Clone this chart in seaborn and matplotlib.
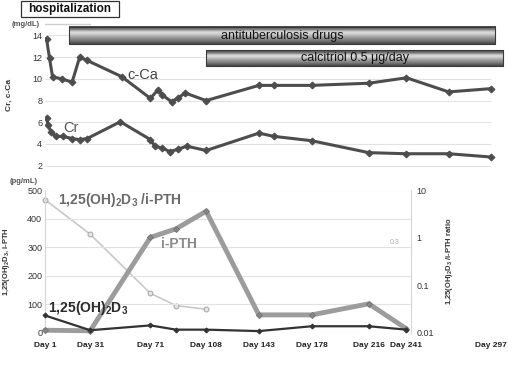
import numpy as np
import pandas as pd
import matplotlib
matplotlib.use("Agg")
import matplotlib.pyplot as plt
import seaborn as sns

# ---------------- data ----------------
cca_day = [2, 4, 6, 12, 19, 24, 29, 52, 71, 76, 79, 85, 89, 94, 108, 143, 153, 178, 216, 241, 269, 297]
cca_val = [13.7, 11.9, 10.2, 10.0, 9.7, 12.0, 11.7, 10.2, 8.2, 9.0, 8.5, 7.9, 8.2, 8.7, 8.0, 9.4, 9.4, 9.4, 9.6, 10.1, 8.8, 9.1]

cr_day = [2, 3, 5, 8, 13, 19, 24, 29, 51, 71, 74, 79, 84, 89, 95, 108, 143, 153, 178, 216, 241, 269, 297]
cr_val = [6.4, 5.75, 5.1, 4.7, 4.7, 4.5, 4.4, 4.5, 6.05, 4.4, 3.8, 3.6, 3.3, 3.5, 3.8, 3.4, 5.0, 4.7, 4.3, 3.2, 3.1, 3.1, 2.8]

lab_day = [1, 31, 71, 88, 108, 143, 178, 216, 241]
ipth = [8, 6, 335, 365, 427, 62, 62, 101, 13]
vitd = [60, 8, 25, 10, 10, 5, 22, 22, 10]

ratio_day = [1, 31, 71, 88, 108]
ratio = [6.4, 1.19, 0.067, 0.037, 0.031]

tick_days = [1, 31, 71, 108, 143, 178, 216, 241, 297]
tick_labels = ["Day 1", "Day 31", "Day 71", "Day 108", "Day 143", "Day 178", "Day 216", "Day 241", "Day 297"]

top_yticks = [2, 4, 6, 8, 10, 12, 14]
bot_yticks = [0, 100, 200, 300, 400, 500]
ratio_ticks = [0.01, 0.1, 1, 10]
ratio_ticklabels = ["0.01", "0.1", "1", "10"]

# treatment periods (day start, day end)
hosp_period = [1, 31]
antitb_period = [17, 300]
calcitriol_period = [108, 305]

# ---------------- style ----------------
sns.set_theme(style="white")
plt.rcParams["font.family"] = ["Liberation Sans", "DejaVu Sans"]
plt.rcParams["mathtext.default"] = "regular"

W, H = 508, 365
fig = plt.figure(figsize=(W / 100, H / 100), dpi=100)

def frac(px_left, px_top, px_right, px_bottom):
    return [px_left / W, 1 - px_bottom / H, (px_right - px_left) / W, (px_bottom - px_top) / H]

ax_top = fig.add_axes(frac(45, 19.2, 505, 171.1))
ax_bot = fig.add_axes(frac(45, 190.5, 411, 332.5))

line_dark = "#4d4d4d"

# ---------- top panel ----------
df_cca = pd.DataFrame({"day": cca_day, "val": cca_val})
df_cr = pd.DataFrame({"day": cr_day, "val": cr_val})
for d in (df_cca, df_cr):
    sns.lineplot(data=d, x="day", y="val", ax=ax_top, color=line_dark, lw=2.2,
                 marker="D", markersize=3.5, markeredgecolor=line_dark, zorder=4)

ax_top.set_xlim(1, 306.4)
ax_top.set_ylim(1.5, 15.5)
ax_top.set_yticks(top_yticks)
ax_top.set_yticklabels([str(v) for v in top_yticks], fontsize=6.5, color="#333333")
ax_top.set_xticks([])
ax_top.hlines(top_yticks, 1, 297, color="#e2e2e2", lw=0.8, zorder=0)
ax_top.tick_params(axis="y", length=0, pad=2)
for s in ax_top.spines.values():
    s.set_visible(False)
ax_top.set_xlabel("")
ax_top.set_ylabel("Cr, c-Ca", fontsize=6, fontweight="bold", color="#333333")
ax_top.yaxis.set_label_coords((13 - 45) / 460, 0.5)

# gradient bars
prof = np.array([0.30, 0.40, 0.55, 0.78, 0.86, 0.80, 0.70, 0.62, 0.55, 0.48, 0.40, 0.30])[:, None]
def bar(ax, period, y0, y1, label):
    ax.imshow(prof, cmap="gray", vmin=0, vmax=1, aspect="auto",
              extent=[period[0], period[1], y0, y1], origin="upper", zorder=3,
              interpolation="bilinear")
    ax.plot([period[0], period[1], period[1], period[0], period[0]],
            [y0, y0, y1, y1, y0], color="#3a3a3a", lw=0.8, zorder=3.1)
    ax.text((period[0] + period[1]) / 2, (y0 + y1) / 2, label, ha="center", va="center",
            fontsize=9, color="#111111", zorder=3.2)

bar(ax_top, antitb_period, 13.2, 14.78, "antituberculosis drugs")
bar(ax_top, calcitriol_period, 11.19, 12.66, "calcitriol 0.5 \u03bcg/day")
ax_top.set_xlim(1, 306.4)
ax_top.set_ylim(1.5, 15.5)

ax_top.plot(hosp_period, [15.06, 15.06], color="#cfcfcf", lw=1.0, zorder=2)
ax_top.text(55.4, 10.36, "c-Ca", fontsize=10.5, color="#444444", va="center", ha="left", zorder=5)
ax_top.text(13, 5.47, "Cr", fontsize=10.5, color="#555555", va="center", ha="left", zorder=5)

fig.text(12 / W, 1 - 24 / H, "(mg/dL)", fontsize=5.5, fontweight="bold", color="#555555",
         ha="left", va="center")
fig.add_artist(plt.Rectangle((21 / W, 1 - 17 / H), 98 / W, 16 / H, transform=fig.transFigure,
                             facecolor="white", edgecolor="#333333", lw=0.9))
fig.text(70 / W, 1 - 8.8 / H, "hospitalization", fontsize=8.5, fontweight="bold", color="#111111",
         ha="center", va="center")

# ---------- bottom panel ----------
ax_r = ax_bot.twinx()
ax_bot.set_zorder(ax_r.get_zorder() + 1)
ax_bot.patch.set_visible(False)

df_ratio = pd.DataFrame({"day": ratio_day, "val": ratio})
sns.lineplot(data=df_ratio, x="day", y="val", ax=ax_r, color="#c8c8c8", lw=1.2,
             marker="o", markersize=3.5, markerfacecolor="#e6e6e6", markeredgecolor="#a8a8a8",
             clip_on=False)
ax_r.set_yscale("log")
ax_r.set_ylim(0.01, 10)
ax_r.set_yticks(ratio_ticks)
ax_r.set_yticklabels(ratio_ticklabels, fontsize=6.5, color="#333333")
ax_r.yaxis.set_minor_locator(matplotlib.ticker.NullLocator())
ax_r.tick_params(axis="y", length=0, pad=4)
ax_r.set_ylabel("1,25(OH)$_2$D$_3$ /i-PTH ratio", rotation=90, fontsize=5.5, fontweight="bold",
                color="#333333", va="top")
ax_r.yaxis.set_label_coords((444 - 45) / 366, 0.5)
ax_r.set_xlabel("")

df_lab = pd.DataFrame({"day": lab_day, "ipth": ipth, "vitd": vitd})
sns.lineplot(data=df_lab, x="day", y="ipth", ax=ax_bot, color="#9c9c9c", lw=3.5,
             marker="D", markersize=3, markeredgecolor="#777777", markerfacecolor="#888888",
             clip_on=False, zorder=4)
sns.lineplot(data=df_lab, x="day", y="vitd", ax=ax_bot, color="#333333", lw=1.6,
             marker="D", markersize=2.5, markeredgecolor="#333333", clip_on=False, zorder=5)

ax_bot.set_xlim(1, 244)
ax_r.set_xlim(1, 244)
ax_bot.set_ylim(0, 500)
ax_bot.set_yticks(bot_yticks)
ax_bot.set_yticklabels([str(v) for v in bot_yticks], fontsize=6.5, color="#333333")
ax_bot.set_xticks(tick_days[:-1])
ax_bot.set_xticklabels(tick_labels[:-1], fontsize=6, fontweight="bold", color="#222222")
ax_bot.text(tick_days[-1], -0.095, tick_labels[-1], transform=ax_bot.get_xaxis_transform(),
            fontsize=6, fontweight="bold", color="#222222", ha="center", va="center", clip_on=False)
ax_bot.tick_params(axis="x", length=0, pad=7)
ax_bot.tick_params(axis="y", length=0, pad=2)
ax_bot.yaxis.grid(True, color="#e2e2e2", lw=0.8)
ax_bot.set_axisbelow(True)
for a in (ax_bot, ax_r):
    for k, s in a.spines.items():
        if k in ("left", "right"):
            s.set_visible(True)
            s.set_color("#d8d8d8")
            s.set_linewidth(0.8)
        else:
            s.set_visible(False)
ax_bot.set_xlabel("")
ax_bot.set_ylabel("1,25(OH)$_2$D$_3$, i-PTH", fontsize=5.5, fontweight="bold", color="#333333")
ax_bot.yaxis.set_label_coords((12 - 45) / 366, 0.5)

ax_bot.text(9.6, 468, "1,25(OH)$_2$D$_3$ /i-PTH", fontsize=10, fontweight="bold", color="#6a6a6a",
            ha="left", va="center", zorder=6)
ax_bot.text(78, 313, "i-PTH", fontsize=10, fontweight="bold", color="#8a8a8a",
            ha="left", va="center", zorder=6)
ax_bot.text(3, 85, "1,25(OH)$_2$D$_3$", fontsize=10, fontweight="bold", color="#2a2a2a",
            ha="left", va="center", zorder=6)

fig.text(10 / W, 1 - 182 / H, "(pg/mL)", fontsize=5.5, fontweight="bold", color="#555555",
         ha="left", va="center")
fig.text(395 / W, 1 - 243 / H, "0.3", fontsize=5, color="#aaaaaa", ha="center", va="center")

fig.savefig("out.png", dpi=100)
